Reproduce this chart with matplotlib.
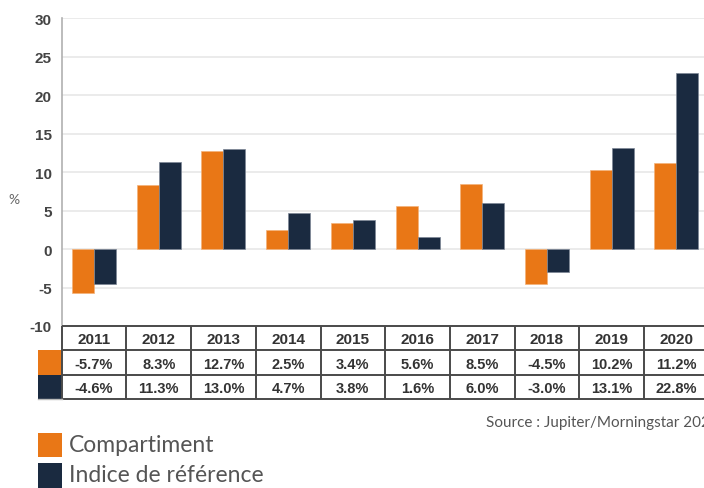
import numpy as np
import matplotlib
matplotlib.use("Agg")
import matplotlib.pyplot as plt
from matplotlib.patches import Rectangle

years = ["2011", "2012", "2013", "2014", "2015", "2016", "2017", "2018", "2019", "2020"]
compartiment = [-5.7, 8.3, 12.7, 2.5, 3.4, 5.6, 8.5, -4.5, 10.2, 11.2]
indice = [-4.6, 11.3, 13.0, 4.7, 3.8, 1.6, 6.0, -3.0, 13.1, 22.8]
series_names = ["Compartiment", "Indice de référence"]
yticks = [-10, -5, 0, 5, 10, 15, 20, 25, 30]

ORANGE = "#E97716"
NAVY = "#1A2A40"
W, H = 704, 489

fig = plt.figure(figsize=(W / 100, H / 100), dpi=100)
fig.patch.set_facecolor("white")

def fx(x):
    return x / W

def fy(y):
    return 1 - y / H

ax_left, ax_right = 61.7, 708.7
ax_top, ax_bot = 19, 327
ax = fig.add_axes([fx(ax_left), fy(ax_bot), (ax_right - ax_left) / W, (ax_bot - ax_top) / H])

x = np.arange(len(years))
bw = 0.34
ax.bar(x - bw / 2, compartiment, bw, color=ORANGE, edgecolor="#F3B27A", linewidth=0.5, zorder=3)
ax.bar(x + bw / 2, indice, bw, color=NAVY, edgecolor="#7D8796", linewidth=0.5, zorder=3)

ax.set_xlim(-0.5, len(years) - 0.5)
ax.set_ylim(-10, 30)
ax.set_yticks(yticks)
ax.set_yticklabels([str(t) for t in yticks], fontweight="bold", color="#444444", fontsize=11,
                   family="Liberation Sans")
ax.set_xticks([])
ax.tick_params(axis="y", length=0, pad=7)
ax.yaxis.grid(True, color="#E8E8E8", linewidth=1.2, zorder=0)
ax.set_axisbelow(True)
for s in ["top", "right", "bottom"]:
    ax.spines[s].set_visible(False)
ax.spines["left"].set_color("#B0B0B0")
ax.spines["left"].set_linewidth(1.2)

fig.text(fx(14), fy(200), "%", fontsize=10, color="#666666", ha="center", va="center", family="Lato")

# table
tab_bot = 400
tax = fig.add_axes([fx(ax_left), fy(tab_bot), (ax_right - ax_left) / W, (tab_bot - ax_bot) / H])
tax.set_xlim(-0.5, len(years) - 0.5)
tax.set_ylim(3, 0)
tax.axis("off")
lc = "#4A4A4A"
lw = 1.4
for r in range(4):
    tax.plot([-0.5, len(years) - 0.5], [r, r], color=lc, lw=lw, clip_on=False, solid_capstyle="butt")
for c in range(len(years) + 1):
    tax.plot([c - 0.5, c - 0.5], [0, 3], color=lc, lw=lw, clip_on=False, solid_capstyle="butt")
sw_w = (ax_left - 37.5) / (ax_right - ax_left) * len(years)
tax.add_patch(Rectangle((-0.5 - sw_w, 1), sw_w, 1, color=ORANGE, clip_on=False, lw=0))
tax.add_patch(Rectangle((-0.5 - sw_w, 2), sw_w, 1, color=NAVY, clip_on=False, lw=0))
tax.plot([-0.5 - sw_w, -0.5], [3, 3], color="#BBBBBB", lw=1, clip_on=False)

for i, yr in enumerate(years):
    tax.text(i, 0.55, yr, ha="center", va="center", fontweight="bold", fontsize=11,
             color="#333333", family="Liberation Sans")
    tax.text(i, 1.55, f"{compartiment[i]:.1f}%", ha="center", va="center", fontweight="bold",
             fontsize=10.5, color="#333333", family="Liberation Sans")
    tax.text(i, 2.55, f"{indice[i]:.1f}%", ha="center", va="center", fontweight="bold",
             fontsize=10.5, color="#333333", family="Liberation Sans")

fig.text(fx(486), fy(423), "Source : Jupiter/Morningstar 2020", fontsize=11, color="#555555",
         ha="left", va="center", family="Lato")

# legend
fig.patches.append(Rectangle((fx(38), fy(458)), 24 / W, 24 / H, transform=fig.transFigure,
                             color=ORANGE, lw=0))
fig.patches.append(Rectangle((fx(38), fy(489)), 24 / W, 25 / H, transform=fig.transFigure,
                             color=NAVY, lw=0))
fig.text(fx(69), fy(446), series_names[0], fontsize=16.5, color="#555555", ha="left", va="center",
         family="Lato")
fig.text(fx(69), fy(476), series_names[1], fontsize=16.5, color="#555555", ha="left", va="center",
         family="Lato")

fig.savefig("out.png", dpi=100, facecolor="white")
